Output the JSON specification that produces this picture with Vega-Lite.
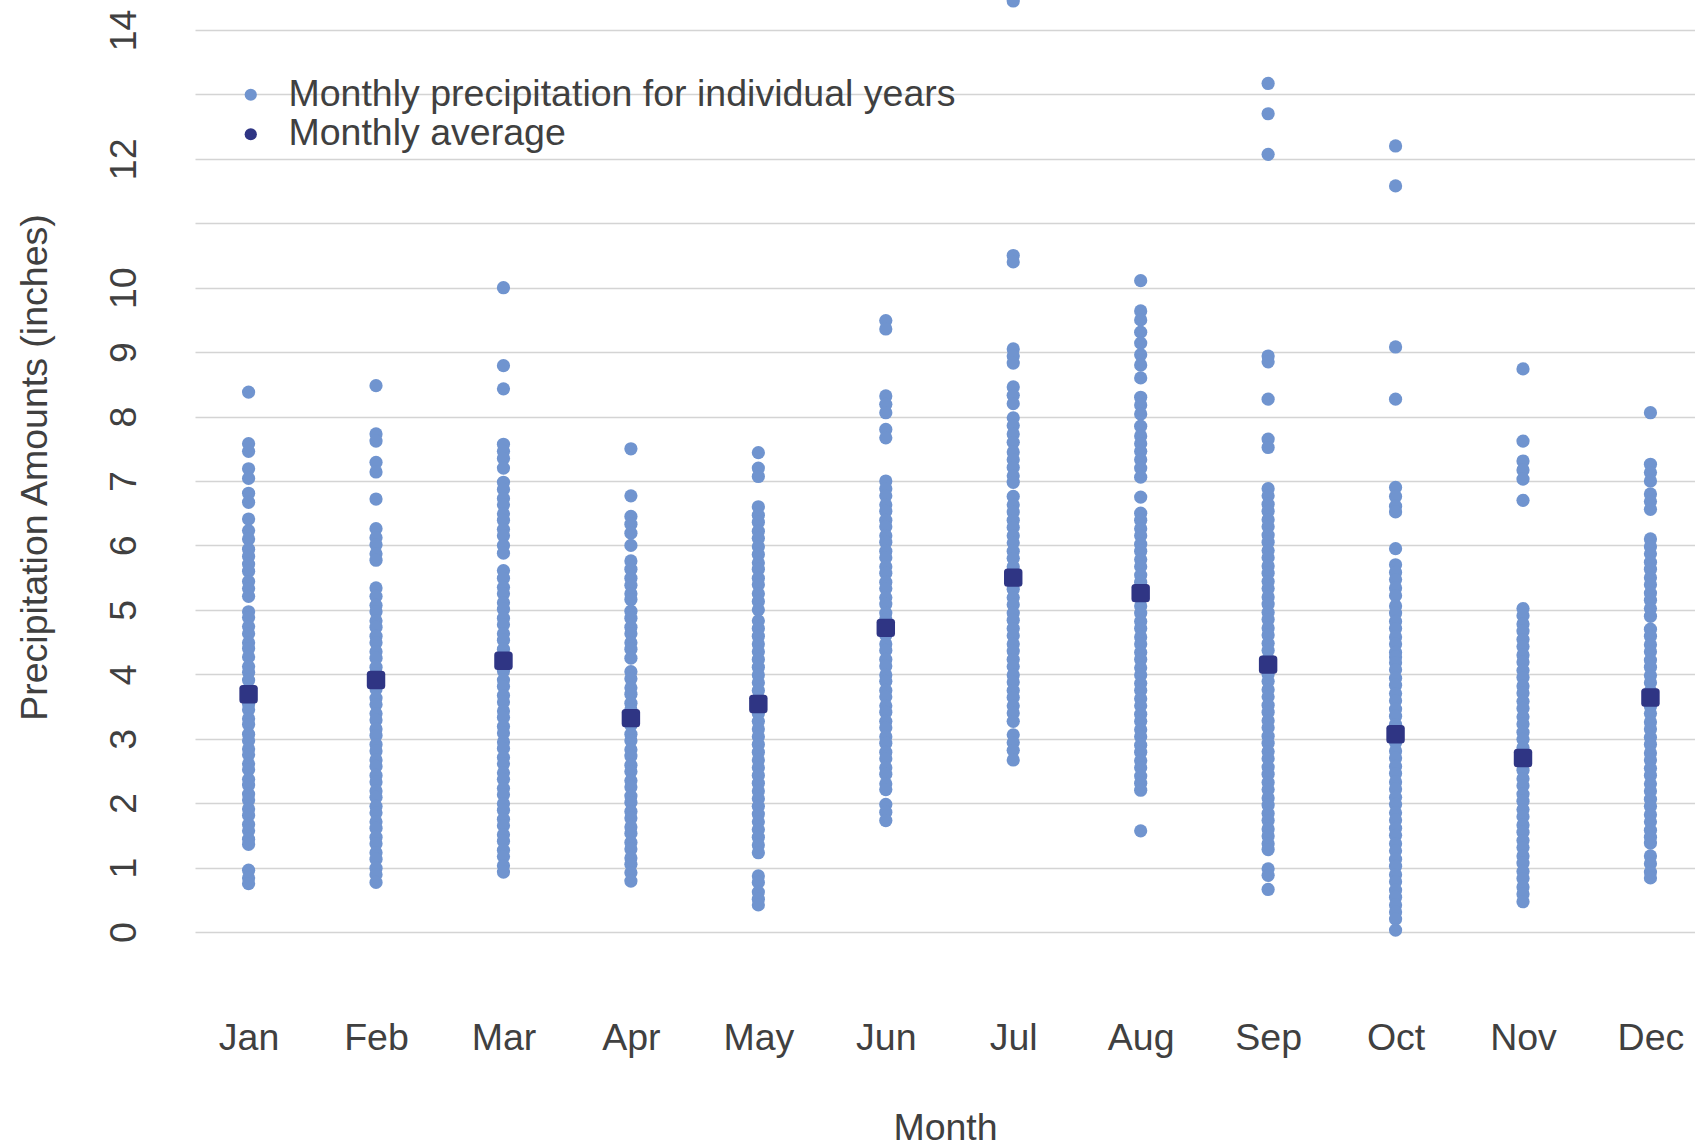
{
"$schema":"https://vega.github.io/schema/vega-lite/v6.json",
"width":1500,"height":902,
"autosize":{"type":"none"},
"padding":{"left":195,"top":30,"right":0,"bottom":214},
"background":"white",
"config":{"font":"Liberation Sans","view":{"stroke":null}},
"datasets":{
"years":[
{"month":"Jan","inches":8.38},{"month":"Jan","inches":7.58},{"month":"Jan","inches":7.46},{"month":"Jan","inches":7.19},{"month":"Jan","inches":7.04},{"month":"Jan","inches":6.81},{"month":"Jan","inches":6.67},{"month":"Jan","inches":6.41},{"month":"Jan","inches":6.23},{"month":"Jan","inches":6.1},{"month":"Jan","inches":5.94},{"month":"Jan","inches":5.83},{"month":"Jan","inches":5.71},{"month":"Jan","inches":5.6},{"month":"Jan","inches":5.44},{"month":"Jan","inches":5.33},{"month":"Jan","inches":5.21},{"month":"Jan","inches":4.97},{"month":"Jan","inches":4.88},{"month":"Jan","inches":4.74},{"month":"Jan","inches":4.63},{"month":"Jan","inches":4.49},{"month":"Jan","inches":4.4},{"month":"Jan","inches":4.27},{"month":"Jan","inches":4.12},{"month":"Jan","inches":4.03},{"month":"Jan","inches":3.91},{"month":"Jan","inches":3.77},{"month":"Jan","inches":3.68},{"month":"Jan","inches":3.54},{"month":"Jan","inches":3.45},{"month":"Jan","inches":3.31},{"month":"Jan","inches":3.22},{"month":"Jan","inches":3.07},{"month":"Jan","inches":2.97},{"month":"Jan","inches":2.84},{"month":"Jan","inches":2.75},{"month":"Jan","inches":2.61},{"month":"Jan","inches":2.52},{"month":"Jan","inches":2.37},{"month":"Jan","inches":2.28},{"month":"Jan","inches":2.14},{"month":"Jan","inches":2.05},{"month":"Jan","inches":1.91},{"month":"Jan","inches":1.81},{"month":"Jan","inches":1.67},{"month":"Jan","inches":1.57},{"month":"Jan","inches":1.44},{"month":"Jan","inches":1.36},{"month":"Jan","inches":0.96},{"month":"Jan","inches":0.84},{"month":"Jan","inches":0.75},
{"month":"Feb","inches":8.48},{"month":"Feb","inches":7.73},{"month":"Feb","inches":7.62},{"month":"Feb","inches":7.29},{"month":"Feb","inches":7.14},{"month":"Feb","inches":6.72},{"month":"Feb","inches":6.26},{"month":"Feb","inches":6.12},{"month":"Feb","inches":6.01},{"month":"Feb","inches":5.87},{"month":"Feb","inches":5.77},{"month":"Feb","inches":5.34},{"month":"Feb","inches":5.21},{"month":"Feb","inches":5.07},{"month":"Feb","inches":4.97},{"month":"Feb","inches":4.83},{"month":"Feb","inches":4.73},{"month":"Feb","inches":4.59},{"month":"Feb","inches":4.49},{"month":"Feb","inches":4.35},{"month":"Feb","inches":4.25},{"month":"Feb","inches":4.11},{"month":"Feb","inches":4.01},{"month":"Feb","inches":3.87},{"month":"Feb","inches":3.77},{"month":"Feb","inches":3.63},{"month":"Feb","inches":3.53},{"month":"Feb","inches":3.39},{"month":"Feb","inches":3.29},{"month":"Feb","inches":3.15},{"month":"Feb","inches":3.05},{"month":"Feb","inches":2.91},{"month":"Feb","inches":2.81},{"month":"Feb","inches":2.67},{"month":"Feb","inches":2.57},{"month":"Feb","inches":2.43},{"month":"Feb","inches":2.33},{"month":"Feb","inches":2.19},{"month":"Feb","inches":2.09},{"month":"Feb","inches":1.95},{"month":"Feb","inches":1.85},{"month":"Feb","inches":1.71},{"month":"Feb","inches":1.61},{"month":"Feb","inches":1.47},{"month":"Feb","inches":1.37},{"month":"Feb","inches":1.23},{"month":"Feb","inches":1.13},{"month":"Feb","inches":0.99},{"month":"Feb","inches":0.89},{"month":"Feb","inches":0.77},
{"month":"Mar","inches":10.0},{"month":"Mar","inches":8.79},{"month":"Mar","inches":8.43},{"month":"Mar","inches":7.57},{"month":"Mar","inches":7.46},{"month":"Mar","inches":7.35},{"month":"Mar","inches":7.2},{"month":"Mar","inches":6.98},{"month":"Mar","inches":6.87},{"month":"Mar","inches":6.73},{"month":"Mar","inches":6.63},{"month":"Mar","inches":6.49},{"month":"Mar","inches":6.39},{"month":"Mar","inches":6.25},{"month":"Mar","inches":6.15},{"month":"Mar","inches":6.0},{"month":"Mar","inches":5.88},{"month":"Mar","inches":5.61},{"month":"Mar","inches":5.49},{"month":"Mar","inches":5.35},{"month":"Mar","inches":5.25},{"month":"Mar","inches":5.11},{"month":"Mar","inches":5.01},{"month":"Mar","inches":4.87},{"month":"Mar","inches":4.77},{"month":"Mar","inches":4.63},{"month":"Mar","inches":4.53},{"month":"Mar","inches":4.39},{"month":"Mar","inches":4.29},{"month":"Mar","inches":4.15},{"month":"Mar","inches":4.05},{"month":"Mar","inches":3.91},{"month":"Mar","inches":3.81},{"month":"Mar","inches":3.67},{"month":"Mar","inches":3.57},{"month":"Mar","inches":3.43},{"month":"Mar","inches":3.33},{"month":"Mar","inches":3.19},{"month":"Mar","inches":3.09},{"month":"Mar","inches":2.95},{"month":"Mar","inches":2.85},{"month":"Mar","inches":2.71},{"month":"Mar","inches":2.61},{"month":"Mar","inches":2.47},{"month":"Mar","inches":2.37},{"month":"Mar","inches":2.23},{"month":"Mar","inches":2.13},{"month":"Mar","inches":1.99},{"month":"Mar","inches":1.89},{"month":"Mar","inches":1.75},{"month":"Mar","inches":1.65},{"month":"Mar","inches":1.51},{"month":"Mar","inches":1.41},{"month":"Mar","inches":1.27},{"month":"Mar","inches":1.17},{"month":"Mar","inches":1.03},{"month":"Mar","inches":0.93},
{"month":"Apr","inches":7.5},{"month":"Apr","inches":6.77},{"month":"Apr","inches":6.45},{"month":"Apr","inches":6.33},{"month":"Apr","inches":6.19},{"month":"Apr","inches":6.0},{"month":"Apr","inches":5.76},{"month":"Apr","inches":5.63},{"month":"Apr","inches":5.49},{"month":"Apr","inches":5.38},{"month":"Apr","inches":5.25},{"month":"Apr","inches":5.16},{"month":"Apr","inches":4.98},{"month":"Apr","inches":4.87},{"month":"Apr","inches":4.73},{"month":"Apr","inches":4.63},{"month":"Apr","inches":4.49},{"month":"Apr","inches":4.39},{"month":"Apr","inches":4.25},{"month":"Apr","inches":4.04},{"month":"Apr","inches":3.93},{"month":"Apr","inches":3.79},{"month":"Apr","inches":3.69},{"month":"Apr","inches":3.55},{"month":"Apr","inches":3.45},{"month":"Apr","inches":3.31},{"month":"Apr","inches":3.21},{"month":"Apr","inches":3.07},{"month":"Apr","inches":2.97},{"month":"Apr","inches":2.83},{"month":"Apr","inches":2.73},{"month":"Apr","inches":2.59},{"month":"Apr","inches":2.49},{"month":"Apr","inches":2.35},{"month":"Apr","inches":2.25},{"month":"Apr","inches":2.11},{"month":"Apr","inches":2.01},{"month":"Apr","inches":1.87},{"month":"Apr","inches":1.77},{"month":"Apr","inches":1.63},{"month":"Apr","inches":1.53},{"month":"Apr","inches":1.39},{"month":"Apr","inches":1.29},{"month":"Apr","inches":1.15},{"month":"Apr","inches":1.05},{"month":"Apr","inches":0.92},{"month":"Apr","inches":0.79},
{"month":"May","inches":7.44},{"month":"May","inches":7.2},{"month":"May","inches":7.07},{"month":"May","inches":6.6},{"month":"May","inches":6.47},{"month":"May","inches":6.36},{"month":"May","inches":6.22},{"month":"May","inches":6.11},{"month":"May","inches":5.98},{"month":"May","inches":5.86},{"month":"May","inches":5.73},{"month":"May","inches":5.63},{"month":"May","inches":5.49},{"month":"May","inches":5.39},{"month":"May","inches":5.25},{"month":"May","inches":5.13},{"month":"May","inches":5.0},{"month":"May","inches":4.83},{"month":"May","inches":4.71},{"month":"May","inches":4.59},{"month":"May","inches":4.47},{"month":"May","inches":4.35},{"month":"May","inches":4.23},{"month":"May","inches":4.11},{"month":"May","inches":3.99},{"month":"May","inches":3.87},{"month":"May","inches":3.75},{"month":"May","inches":3.63},{"month":"May","inches":3.51},{"month":"May","inches":3.39},{"month":"May","inches":3.27},{"month":"May","inches":3.15},{"month":"May","inches":3.03},{"month":"May","inches":2.91},{"month":"May","inches":2.79},{"month":"May","inches":2.67},{"month":"May","inches":2.55},{"month":"May","inches":2.43},{"month":"May","inches":2.31},{"month":"May","inches":2.19},{"month":"May","inches":2.07},{"month":"May","inches":1.95},{"month":"May","inches":1.83},{"month":"May","inches":1.71},{"month":"May","inches":1.59},{"month":"May","inches":1.47},{"month":"May","inches":1.35},{"month":"May","inches":1.23},{"month":"May","inches":0.87},{"month":"May","inches":0.77},{"month":"May","inches":0.62},{"month":"May","inches":0.51},{"month":"May","inches":0.42},
{"month":"Jun","inches":9.49},{"month":"Jun","inches":9.36},{"month":"Jun","inches":8.32},{"month":"Jun","inches":8.19},{"month":"Jun","inches":8.06},{"month":"Jun","inches":7.8},{"month":"Jun","inches":7.67},{"month":"Jun","inches":7.0},{"month":"Jun","inches":6.88},{"month":"Jun","inches":6.77},{"month":"Jun","inches":6.63},{"month":"Jun","inches":6.53},{"month":"Jun","inches":6.39},{"month":"Jun","inches":6.29},{"month":"Jun","inches":6.15},{"month":"Jun","inches":6.05},{"month":"Jun","inches":5.91},{"month":"Jun","inches":5.81},{"month":"Jun","inches":5.67},{"month":"Jun","inches":5.57},{"month":"Jun","inches":5.43},{"month":"Jun","inches":5.33},{"month":"Jun","inches":5.19},{"month":"Jun","inches":5.09},{"month":"Jun","inches":4.95},{"month":"Jun","inches":4.85},{"month":"Jun","inches":4.71},{"month":"Jun","inches":4.61},{"month":"Jun","inches":4.47},{"month":"Jun","inches":4.37},{"month":"Jun","inches":4.23},{"month":"Jun","inches":4.13},{"month":"Jun","inches":3.99},{"month":"Jun","inches":3.89},{"month":"Jun","inches":3.75},{"month":"Jun","inches":3.65},{"month":"Jun","inches":3.51},{"month":"Jun","inches":3.41},{"month":"Jun","inches":3.27},{"month":"Jun","inches":3.17},{"month":"Jun","inches":3.03},{"month":"Jun","inches":2.93},{"month":"Jun","inches":2.79},{"month":"Jun","inches":2.69},{"month":"Jun","inches":2.55},{"month":"Jun","inches":2.45},{"month":"Jun","inches":2.3},{"month":"Jun","inches":2.21},{"month":"Jun","inches":1.98},{"month":"Jun","inches":1.86},{"month":"Jun","inches":1.73},
{"month":"Jul","inches":14.45},{"month":"Jul","inches":10.5},{"month":"Jul","inches":10.4},{"month":"Jul","inches":9.05},{"month":"Jul","inches":8.94},{"month":"Jul","inches":8.83},{"month":"Jul","inches":8.46},{"month":"Jul","inches":8.33},{"month":"Jul","inches":8.2},{"month":"Jul","inches":7.98},{"month":"Jul","inches":7.86},{"month":"Jul","inches":7.73},{"month":"Jul","inches":7.6},{"month":"Jul","inches":7.45},{"month":"Jul","inches":7.33},{"month":"Jul","inches":7.21},{"month":"Jul","inches":7.08},{"month":"Jul","inches":6.98},{"month":"Jul","inches":6.76},{"month":"Jul","inches":6.63},{"month":"Jul","inches":6.52},{"month":"Jul","inches":6.39},{"month":"Jul","inches":6.28},{"month":"Jul","inches":6.15},{"month":"Jul","inches":6.04},{"month":"Jul","inches":5.91},{"month":"Jul","inches":5.8},{"month":"Jul","inches":5.67},{"month":"Jul","inches":5.56},{"month":"Jul","inches":5.43},{"month":"Jul","inches":5.32},{"month":"Jul","inches":5.19},{"month":"Jul","inches":5.08},{"month":"Jul","inches":4.95},{"month":"Jul","inches":4.84},{"month":"Jul","inches":4.71},{"month":"Jul","inches":4.6},{"month":"Jul","inches":4.47},{"month":"Jul","inches":4.36},{"month":"Jul","inches":4.23},{"month":"Jul","inches":4.12},{"month":"Jul","inches":3.99},{"month":"Jul","inches":3.88},{"month":"Jul","inches":3.75},{"month":"Jul","inches":3.64},{"month":"Jul","inches":3.51},{"month":"Jul","inches":3.4},{"month":"Jul","inches":3.27},{"month":"Jul","inches":3.06},{"month":"Jul","inches":2.94},{"month":"Jul","inches":2.82},{"month":"Jul","inches":2.67},
{"month":"Aug","inches":10.11},{"month":"Aug","inches":9.64},{"month":"Aug","inches":9.5},{"month":"Aug","inches":9.31},{"month":"Aug","inches":9.14},{"month":"Aug","inches":8.96},{"month":"Aug","inches":8.8},{"month":"Aug","inches":8.6},{"month":"Aug","inches":8.3},{"month":"Aug","inches":8.18},{"month":"Aug","inches":8.04},{"month":"Aug","inches":7.85},{"month":"Aug","inches":7.7},{"month":"Aug","inches":7.58},{"month":"Aug","inches":7.46},{"month":"Aug","inches":7.33},{"month":"Aug","inches":7.2},{"month":"Aug","inches":7.06},{"month":"Aug","inches":6.75},{"month":"Aug","inches":6.5},{"month":"Aug","inches":6.39},{"month":"Aug","inches":6.26},{"month":"Aug","inches":6.15},{"month":"Aug","inches":6.02},{"month":"Aug","inches":5.91},{"month":"Aug","inches":5.78},{"month":"Aug","inches":5.67},{"month":"Aug","inches":5.54},{"month":"Aug","inches":5.43},{"month":"Aug","inches":5.3},{"month":"Aug","inches":5.19},{"month":"Aug","inches":5.06},{"month":"Aug","inches":4.95},{"month":"Aug","inches":4.82},{"month":"Aug","inches":4.71},{"month":"Aug","inches":4.58},{"month":"Aug","inches":4.47},{"month":"Aug","inches":4.34},{"month":"Aug","inches":4.23},{"month":"Aug","inches":4.1},{"month":"Aug","inches":3.99},{"month":"Aug","inches":3.86},{"month":"Aug","inches":3.75},{"month":"Aug","inches":3.62},{"month":"Aug","inches":3.51},{"month":"Aug","inches":3.38},{"month":"Aug","inches":3.27},{"month":"Aug","inches":3.14},{"month":"Aug","inches":3.03},{"month":"Aug","inches":2.9},{"month":"Aug","inches":2.79},{"month":"Aug","inches":2.66},{"month":"Aug","inches":2.55},{"month":"Aug","inches":2.42},{"month":"Aug","inches":2.31},{"month":"Aug","inches":2.2},{"month":"Aug","inches":1.57},
{"month":"Sep","inches":13.17},{"month":"Sep","inches":12.7},{"month":"Sep","inches":12.07},{"month":"Sep","inches":8.94},{"month":"Sep","inches":8.85},{"month":"Sep","inches":8.27},{"month":"Sep","inches":7.65},{"month":"Sep","inches":7.52},{"month":"Sep","inches":6.88},{"month":"Sep","inches":6.77},{"month":"Sep","inches":6.64},{"month":"Sep","inches":6.53},{"month":"Sep","inches":6.4},{"month":"Sep","inches":6.29},{"month":"Sep","inches":6.16},{"month":"Sep","inches":6.05},{"month":"Sep","inches":5.92},{"month":"Sep","inches":5.81},{"month":"Sep","inches":5.68},{"month":"Sep","inches":5.57},{"month":"Sep","inches":5.44},{"month":"Sep","inches":5.33},{"month":"Sep","inches":5.2},{"month":"Sep","inches":5.09},{"month":"Sep","inches":4.96},{"month":"Sep","inches":4.85},{"month":"Sep","inches":4.72},{"month":"Sep","inches":4.61},{"month":"Sep","inches":4.48},{"month":"Sep","inches":4.37},{"month":"Sep","inches":4.24},{"month":"Sep","inches":4.13},{"month":"Sep","inches":4.0},{"month":"Sep","inches":3.89},{"month":"Sep","inches":3.76},{"month":"Sep","inches":3.65},{"month":"Sep","inches":3.52},{"month":"Sep","inches":3.41},{"month":"Sep","inches":3.28},{"month":"Sep","inches":3.17},{"month":"Sep","inches":3.04},{"month":"Sep","inches":2.93},{"month":"Sep","inches":2.8},{"month":"Sep","inches":2.69},{"month":"Sep","inches":2.56},{"month":"Sep","inches":2.45},{"month":"Sep","inches":2.32},{"month":"Sep","inches":2.21},{"month":"Sep","inches":2.08},{"month":"Sep","inches":1.97},{"month":"Sep","inches":1.84},{"month":"Sep","inches":1.73},{"month":"Sep","inches":1.6},{"month":"Sep","inches":1.49},{"month":"Sep","inches":1.37},{"month":"Sep","inches":1.28},{"month":"Sep","inches":0.98},{"month":"Sep","inches":0.88},{"month":"Sep","inches":0.66},
{"month":"Oct","inches":12.2},{"month":"Oct","inches":11.58},{"month":"Oct","inches":9.08},{"month":"Oct","inches":8.27},{"month":"Oct","inches":6.9},{"month":"Oct","inches":6.76},{"month":"Oct","inches":6.61},{"month":"Oct","inches":6.52},{"month":"Oct","inches":5.95},{"month":"Oct","inches":5.7},{"month":"Oct","inches":5.58},{"month":"Oct","inches":5.47},{"month":"Oct","inches":5.34},{"month":"Oct","inches":5.22},{"month":"Oct","inches":5.06},{"month":"Oct","inches":4.95},{"month":"Oct","inches":4.82},{"month":"Oct","inches":4.71},{"month":"Oct","inches":4.58},{"month":"Oct","inches":4.47},{"month":"Oct","inches":4.34},{"month":"Oct","inches":4.27},{"month":"Oct","inches":4.18},{"month":"Oct","inches":4.07},{"month":"Oct","inches":3.94},{"month":"Oct","inches":3.83},{"month":"Oct","inches":3.7},{"month":"Oct","inches":3.59},{"month":"Oct","inches":3.46},{"month":"Oct","inches":3.35},{"month":"Oct","inches":3.22},{"month":"Oct","inches":3.15},{"month":"Oct","inches":3.05},{"month":"Oct","inches":2.94},{"month":"Oct","inches":2.81},{"month":"Oct","inches":2.7},{"month":"Oct","inches":2.57},{"month":"Oct","inches":2.46},{"month":"Oct","inches":2.33},{"month":"Oct","inches":2.22},{"month":"Oct","inches":2.09},{"month":"Oct","inches":1.98},{"month":"Oct","inches":1.85},{"month":"Oct","inches":1.74},{"month":"Oct","inches":1.61},{"month":"Oct","inches":1.5},{"month":"Oct","inches":1.37},{"month":"Oct","inches":1.26},{"month":"Oct","inches":1.13},{"month":"Oct","inches":1.02},{"month":"Oct","inches":0.89},{"month":"Oct","inches":0.78},{"month":"Oct","inches":0.65},{"month":"Oct","inches":0.54},{"month":"Oct","inches":0.42},{"month":"Oct","inches":0.31},{"month":"Oct","inches":0.2},{"month":"Oct","inches":0.03},
{"month":"Nov","inches":8.74},{"month":"Nov","inches":7.62},{"month":"Nov","inches":7.31},{"month":"Nov","inches":7.17},{"month":"Nov","inches":7.03},{"month":"Nov","inches":6.7},{"month":"Nov","inches":5.02},{"month":"Nov","inches":4.91},{"month":"Nov","inches":4.78},{"month":"Nov","inches":4.67},{"month":"Nov","inches":4.54},{"month":"Nov","inches":4.43},{"month":"Nov","inches":4.3},{"month":"Nov","inches":4.19},{"month":"Nov","inches":4.06},{"month":"Nov","inches":3.95},{"month":"Nov","inches":3.82},{"month":"Nov","inches":3.71},{"month":"Nov","inches":3.58},{"month":"Nov","inches":3.47},{"month":"Nov","inches":3.34},{"month":"Nov","inches":3.23},{"month":"Nov","inches":3.1},{"month":"Nov","inches":2.99},{"month":"Nov","inches":2.86},{"month":"Nov","inches":2.75},{"month":"Nov","inches":2.62},{"month":"Nov","inches":2.51},{"month":"Nov","inches":2.38},{"month":"Nov","inches":2.27},{"month":"Nov","inches":2.14},{"month":"Nov","inches":2.03},{"month":"Nov","inches":1.9},{"month":"Nov","inches":1.79},{"month":"Nov","inches":1.66},{"month":"Nov","inches":1.55},{"month":"Nov","inches":1.42},{"month":"Nov","inches":1.31},{"month":"Nov","inches":1.18},{"month":"Nov","inches":1.07},{"month":"Nov","inches":0.94},{"month":"Nov","inches":0.83},{"month":"Nov","inches":0.7},{"month":"Nov","inches":0.59},{"month":"Nov","inches":0.47},
{"month":"Dec","inches":8.06},{"month":"Dec","inches":7.26},{"month":"Dec","inches":7.13},{"month":"Dec","inches":7.0},{"month":"Dec","inches":6.8},{"month":"Dec","inches":6.68},{"month":"Dec","inches":6.56},{"month":"Dec","inches":6.1},{"month":"Dec","inches":5.98},{"month":"Dec","inches":5.87},{"month":"Dec","inches":5.74},{"month":"Dec","inches":5.63},{"month":"Dec","inches":5.5},{"month":"Dec","inches":5.39},{"month":"Dec","inches":5.26},{"month":"Dec","inches":5.15},{"month":"Dec","inches":5.02},{"month":"Dec","inches":4.9},{"month":"Dec","inches":4.7},{"month":"Dec","inches":4.59},{"month":"Dec","inches":4.46},{"month":"Dec","inches":4.35},{"month":"Dec","inches":4.22},{"month":"Dec","inches":4.11},{"month":"Dec","inches":3.98},{"month":"Dec","inches":3.87},{"month":"Dec","inches":3.74},{"month":"Dec","inches":3.63},{"month":"Dec","inches":3.5},{"month":"Dec","inches":3.39},{"month":"Dec","inches":3.26},{"month":"Dec","inches":3.15},{"month":"Dec","inches":3.02},{"month":"Dec","inches":2.91},{"month":"Dec","inches":2.78},{"month":"Dec","inches":2.67},{"month":"Dec","inches":2.54},{"month":"Dec","inches":2.43},{"month":"Dec","inches":2.3},{"month":"Dec","inches":2.19},{"month":"Dec","inches":2.06},{"month":"Dec","inches":1.95},{"month":"Dec","inches":1.82},{"month":"Dec","inches":1.71},{"month":"Dec","inches":1.58},{"month":"Dec","inches":1.47},{"month":"Dec","inches":1.38},{"month":"Dec","inches":1.18},{"month":"Dec","inches":1.06},{"month":"Dec","inches":0.93},{"month":"Dec","inches":0.84}
],
"avg":[
{"month":"Jan","inches":3.69},{"month":"Feb","inches":3.91},{"month":"Mar","inches":4.21},{"month":"Apr","inches":3.32},{"month":"May","inches":3.54},{"month":"Jun","inches":4.72},{"month":"Jul","inches":5.5},{"month":"Aug","inches":5.26},{"month":"Sep","inches":4.15},{"month":"Oct","inches":3.07},{"month":"Nov","inches":2.7},{"month":"Dec","inches":3.64}
]
},
"layer":[
{"data":{"name":"years"},
 "mark":{"type":"point","filled":true,"shape":"circle","size":175,"opacity":1},
 "encoding":{
  "x":{"field":"month","type":"ordinal","sort":["Jan","Feb","Mar","Apr","May","Jun","Jul","Aug","Sep","Oct","Nov","Dec"],
       "scale":{"type":"point","padding":0.385,"align":0.546},
       "axis":{"title":"Month","labelAngle":0,"ticks":false,"tickSize":0,"domain":false,"grid":false,"labelPadding":106,"labelBaseline":"middle","labelFontSize":37.5,"labelColor":"#404040","labelFont":"Liberation Sans","titleFont":"Liberation Sans","titleFontSize":37.5,"titleFontWeight":"normal","titleColor":"#404040","titleY":196,"titleBaseline":"middle"}},
  "y":{"field":"inches","type":"quantitative","scale":{"domain":[0,14],"nice":false,"zero":true},
       "axis":{"title":"Precipitation Amounts (inches)","values":[0,1,2,3,4,5,6,7,8,9,10,11,12,13,14],"format":"d","labelExpr":"datum.value==11||datum.value==13?'':datum.label","grid":true,"gridColor":"#d4d4d4","gridWidth":1.4,"domain":false,"ticks":false,"tickSize":0,"labelAngle":270,"labelAlign":"center","labelBaseline":"middle","labelPadding":71,"labelFontSize":37.5,"labelColor":"#404040","labelFont":"Liberation Sans","labelOverlap":false,"labelBound":false,"titleFont":"Liberation Sans","titleFontSize":37.5,"titleFontWeight":"normal","titleColor":"#404040","titleAngle":270,"titleX":-160,"titleY":437,"titleAlign":"center","titleBaseline":"middle"}},
  "color":{"datum":"Monthly precipitation for individual years","type":"nominal",
       "scale":{"domain":["Monthly precipitation for individual years","Monthly average"],"range":["#7094cf","#2f3584"]},
       "legend":{"title":null,"orient":"none","legendX":37,"legendY":46,"symbolType":"circle","symbolSize":150,"labelFontSize":37.5,"labelColor":"#404040","labelFont":"Liberation Sans","labelOffset":19,"rowPadding":0.5,"padding":0,"labelLimit":1000}}
 }},
{"data":{"name":"avg"},
 "mark":{"type":"point","filled":true,"shape":"M -0.62 -1 L 0.62 -1 Q 1 -1 1 -0.62 L 1 0.62 Q 1 1 0.62 1 L -0.62 1 Q -1 1 -1 0.62 L -1 -0.62 Q -1 -1 -0.62 -1 Z","size":340,"opacity":1},
 "encoding":{
  "x":{"field":"month","type":"ordinal","sort":["Jan","Feb","Mar","Apr","May","Jun","Jul","Aug","Sep","Oct","Nov","Dec"]},
  "y":{"field":"inches","type":"quantitative"},
  "color":{"datum":"Monthly average","type":"nominal"}
 }}
]
}
